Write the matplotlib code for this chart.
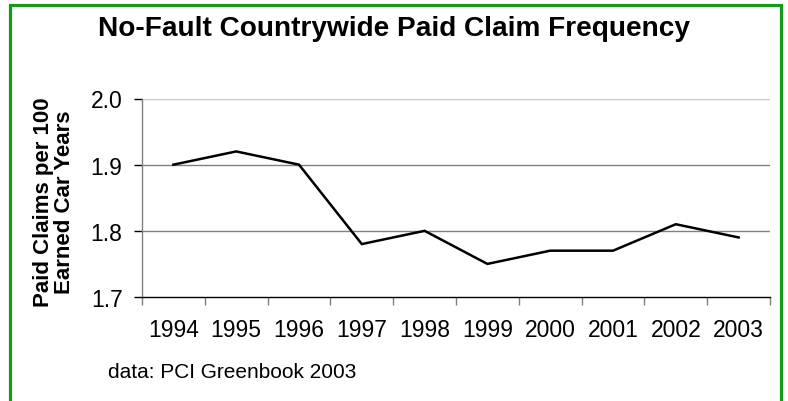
import numpy as np
import matplotlib.pyplot as plt
from matplotlib.patches import Rectangle

plt.rcParams['font.family'] = ['Liberation Sans', 'DejaVu Sans']

years = ["1994", "1995", "1996", "1997", "1998", "1999", "2000", "2001", "2002", "2003"]
claims = [1.90, 1.92, 1.90, 1.78, 1.80, 1.75, 1.77, 1.77, 1.81, 1.79]
y_ticks = [1.7, 1.8, 1.9, 2.0]

W, H = 788, 402
fig = plt.figure(figsize=(W / 100, H / 100), dpi=100)

# green frame (bottom edge runs off the picture)
fig.patches.append(Rectangle((9.5 / W, -0.05), (780.5 - 9.5) / W, 1 - 5.5 / H + 0.05,
                             transform=fig.transFigure, fill=False,
                             edgecolor="#1a9a1a", linewidth=2.3))

ax = fig.add_axes([142 / W, 1 - 298 / H, (770 - 142) / W, (298 - 99.5) / H])

x = np.arange(len(years))
ax.plot(x, claims, color="black", linewidth=1.8, solid_joinstyle="miter")

ax.set_xlim(-0.5, len(years) - 0.5)
ax.set_ylim(1.7, 2.0)

for v in y_ticks[1:]:
    c = "#c8c8c8" if v == 2.0 else "#808080"
    ax.axhline(v, color=c, linewidth=1.0, zorder=0)

ax.set_yticks(y_ticks)
ax.set_yticklabels([f"{v:.1f}" for v in y_ticks], fontsize=16.5)
ax.set_xticks(x)
ax.set_xticklabels(years, fontsize=16.5)
ax.set_xticks(np.arange(len(years) + 1) - 0.5, minor=True)
ax.tick_params(axis="x", which="major", length=0, pad=15)
ax.tick_params(axis="x", which="minor", length=6, width=1, color="#808080", direction="out")
ax.tick_params(axis="y", length=6, width=1, color="black", direction="out", pad=8)

for s in ["top", "right"]:
    ax.spines[s].set_visible(False)
ax.spines["left"].set_color("#808080")
ax.spines["left"].set_linewidth(1.0)
ax.spines["bottom"].set_color("black")
ax.spines["bottom"].set_linewidth(1.0)

fig.text(394 / W, 1 - 29 / H, "No-Fault Countrywide Paid Claim Frequency",
         ha="center", va="center", fontsize=20.2, fontweight="bold")
fig.text(54 / W, 1 - 202 / H, "Paid Claims per 100\nEarned Car Years",
         ha="center", va="center", rotation=90, fontsize=16, fontweight="bold",
         multialignment="center", linespacing=1.05)
fig.text(108 / W, 1 - 373 / H, "data: PCI Greenbook 2003",
         ha="left", va="center", fontsize=15)

fig.savefig("out.png", dpi=100)
